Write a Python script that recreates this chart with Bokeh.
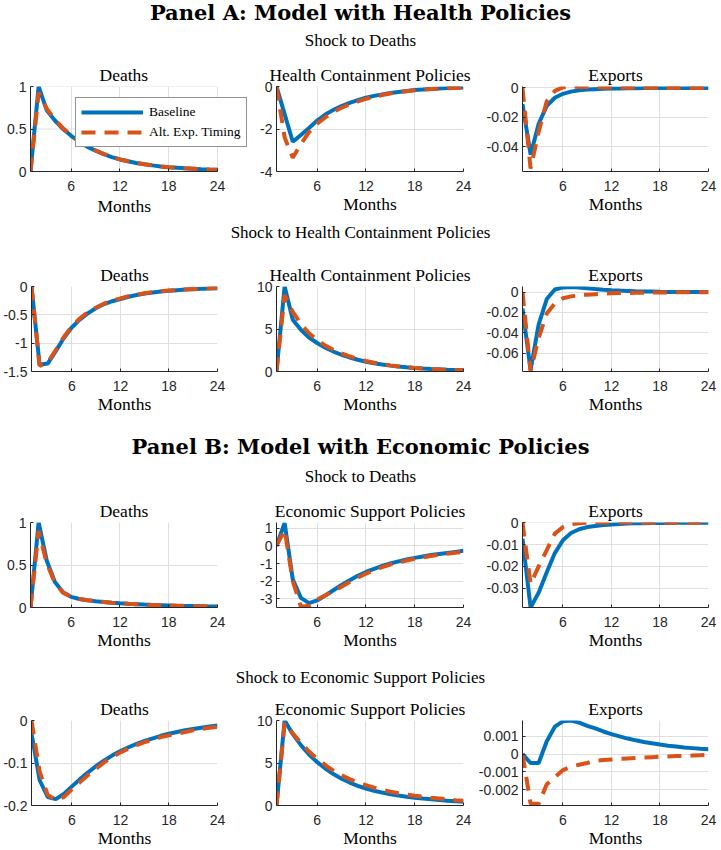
from bokeh.plotting import figure
from bokeh.layouts import column, row
from bokeh.models import Range1d, FixedTicker, Legend, LegendItem, Title
from bokeh.embed import file_html
from bokeh.resources import INLINE
from bokeh.core.properties import value

# ---------------- data ----------------
months = list(range(1, 25))
x_ticks = [6, 12, 18, 24]
x_tick_labels = ["6", "12", "18", "24"]

panel_titles = ["Panel A: Model with Health Policies", "Panel B: Model with Economic Policies"]
shock_titles = ["Shock to Deaths", "Shock to Health Containment Policies",
                "Shock to Deaths", "Shock to Economic Support Policies"]
series_names = ["Baseline", "Alt. Exp. Timing"]

# Row 1 (Panel A, shock to deaths)
a1_deaths_base = [0, 1.0, 0.72, 0.6, 0.5, 0.42, 0.35, 0.29, 0.245, 0.205, 0.17, 0.142, 0.12, 0.1, 0.085, 0.072, 0.06, 0.051, 0.044, 0.037, 0.032, 0.027, 0.023, 0.02]
a1_deaths_alt = [0, 0.93, 0.74, 0.61, 0.51, 0.425, 0.355, 0.295, 0.248, 0.207, 0.172, 0.143, 0.12, 0.1, 0.085, 0.072, 0.06, 0.051, 0.044, 0.037, 0.032, 0.027, 0.023, 0.02]
a1_health_base = [0, -1.3, -2.6, -2.28, -1.95, -1.6, -1.32, -1.1, -0.92, -0.77, -0.64, -0.53, -0.44, -0.37, -0.31, -0.26, -0.21, -0.17, -0.14, -0.115, -0.095, -0.075, -0.06, -0.05]
a1_health_alt = [0, -2.4, -3.35, -2.7, -2.15, -1.75, -1.45, -1.2, -1.0, -0.84, -0.7, -0.58, -0.48, -0.4, -0.33, -0.27, -0.22, -0.18, -0.15, -0.12, -0.1, -0.08, -0.065, -0.05]
a1_exports_base = [-0.011, -0.0455, -0.0244, -0.0122, -0.0067, -0.004, -0.0025, -0.0016, -0.0011, -0.0008, -0.0006, -0.0004, -0.0003, -0.0002, -0.00015, -0.0001, -0.00008, -0.00006, -0.00004, -0.00003, -0.00002, -0.00001, 0, 0]
a1_exports_alt = [0, -0.055, -0.03, -0.009, -0.002, 0.0004, 0.0008, 0.0007, 0.0006, 0.0005, 0.0004, 0.0003, 0.0002, 0.00015, 0.0001, 0.00008, 0.00006, 0.00004, 0.00003, 0.00002, 0.00001, 0, 0, 0]

# Row 2 (Panel A, shock to health containment policies)
a2_deaths_base = [0, -1.38, -1.36, -1.14, -0.91, -0.72, -0.58, -0.47, -0.38, -0.31, -0.26, -0.22, -0.18, -0.15, -0.125, -0.105, -0.09, -0.075, -0.065, -0.055, -0.047, -0.04, -0.035, -0.03]
a2_deaths_alt = [0, -1.4, -1.34, -1.12, -0.89, -0.7, -0.56, -0.45, -0.37, -0.3, -0.25, -0.21, -0.17, -0.145, -0.12, -0.1, -0.085, -0.072, -0.062, -0.053, -0.045, -0.038, -0.033, -0.028]
a2_health_base = [0, 10, 6.1, 4.9, 4.0, 3.35, 2.8, 2.35, 1.97, 1.65, 1.38, 1.15, 0.97, 0.82, 0.69, 0.58, 0.49, 0.41, 0.35, 0.3, 0.26, 0.22, 0.19, 0.17]
a2_health_alt = [0, 9.0, 7.0, 5.6, 4.5, 3.7, 3.05, 2.55, 2.12, 1.78, 1.48, 1.23, 1.03, 0.86, 0.72, 0.6, 0.5, 0.42, 0.35, 0.3, 0.25, 0.21, 0.18, 0.15]
a2_exports_base = [-0.016, -0.0765, -0.0316, -0.0068, 0.0025, 0.0046, 0.005, 0.0045, 0.0038, 0.003, 0.0024, 0.0019, 0.0015, 0.0012, 0.0009, 0.0007, 0.0005, 0.0003, 0.0002, 0.00015, 0.0001, 0.00005, 0.00003, 0]
a2_exports_alt = [0, -0.078, -0.045, -0.021, -0.011, -0.006, -0.0042, -0.003, -0.0025, -0.002, -0.0016, -0.0012, -0.001, -0.0008, -0.0007, -0.0006, -0.0005, -0.0004, -0.0003, -0.00025, -0.0002, -0.00015, -0.0001, -0.0001]

# Row 3 (Panel B, shock to deaths)
b1_deaths_base = [0, 1.0, 0.55, 0.3, 0.18, 0.125, 0.1, 0.085, 0.074, 0.065, 0.057, 0.05, 0.044, 0.039, 0.034, 0.03, 0.027, 0.024, 0.021, 0.019, 0.017, 0.015, 0.013, 0.012]
b1_deaths_alt = [0, 0.9, 0.52, 0.29, 0.175, 0.125, 0.1, 0.085, 0.074, 0.065, 0.057, 0.05, 0.044, 0.039, 0.034, 0.03, 0.027, 0.024, 0.021, 0.019, 0.017, 0.015, 0.013, 0.012]
b1_econ_base = [0, 1.3, -1.9, -2.95, -3.25, -3.1, -2.82, -2.52, -2.22, -1.95, -1.7, -1.48, -1.3, -1.14, -1.0, -0.88, -0.77, -0.68, -0.6, -0.52, -0.46, -0.4, -0.34, -0.28]
b1_econ_alt = [0, 0.9, -2.0, -3.45, -3.4, -3.05, -2.8, -2.58, -2.32, -2.05, -1.8, -1.58, -1.38, -1.21, -1.06, -0.94, -0.83, -0.73, -0.65, -0.57, -0.5, -0.44, -0.39, -0.35]
b1_exports_base = [-0.0073, -0.0388, -0.032, -0.0227, -0.0139, -0.008, -0.0047, -0.003, -0.002, -0.0015, -0.001, -0.0008, -0.0006, -0.0004, -0.0003, -0.0002, -0.00015, -0.0001, -0.00008, -0.00005, -0.00003, -0.00002, -0.00001, 0]
b1_exports_alt = [0, -0.028, -0.02, -0.0125, -0.005, -0.002, -0.0007, -0.0002, 0, 0.0001, 0.0001, 0.0001, 0.00005, 0.00005, 0.00003, 0.00002, 0.00001, 0, 0, 0, 0, 0, 0, 0]

# Row 4 (Panel B, shock to economic support policies)
b2_deaths_base = [-0.03, -0.14, -0.18, -0.185, -0.173, -0.155, -0.138, -0.122, -0.107, -0.094, -0.082, -0.072, -0.063, -0.055, -0.048, -0.042, -0.036, -0.031, -0.027, -0.023, -0.02, -0.017, -0.014, -0.012]
b2_deaths_alt = [0, -0.12, -0.175, -0.187, -0.18, -0.162, -0.145, -0.128, -0.113, -0.098, -0.086, -0.075, -0.066, -0.058, -0.051, -0.045, -0.039, -0.035, -0.031, -0.027, -0.023, -0.02, -0.017, -0.015]
b2_econ_base = [0, 10, 8.4, 7.1, 6.0, 5.1, 4.35, 3.7, 3.15, 2.7, 2.32, 2.0, 1.74, 1.52, 1.33, 1.17, 1.03, 0.92, 0.82, 0.73, 0.65, 0.57, 0.5, 0.45]
b2_econ_alt = [0, 9.7, 8.5, 7.35, 6.35, 5.5, 4.75, 4.1, 3.55, 3.1, 2.72, 2.4, 2.1, 1.85, 1.63, 1.44, 1.28, 1.15, 1.03, 0.92, 0.82, 0.72, 0.63, 0.55]
b2_exports_base = [0, -0.0005, -0.0005, 0.00073, 0.00155, 0.00185, 0.0019, 0.00178, 0.0016, 0.00145, 0.00128, 0.00113, 0.001, 0.00088, 0.00078, 0.00069, 0.00061, 0.00054, 0.00048, 0.00043, 0.00038, 0.00034, 0.0003, 0.00027]
b2_exports_alt = [0, -0.0028, -0.0028, -0.0017, -0.0013, -0.0009, -0.0007, -0.0006, -0.0005, -0.00037, -0.00033, -0.0003, -0.00027, -0.00024, -0.00021, -0.00019, -0.00017, -0.00015, -0.00013, -0.00011, -0.0001, -0.00008, -0.00006, -0.00005]

# y ticks / labels per subplot
yt_deaths_pos = [0, 0.5, 1];             yl_deaths_pos = ["0", "0.5", "1"]
yt_health_a1 = [-4, -2, 0];              yl_health_a1 = ["-4", "-2", "0"]
yt_exp_a1 = [-0.04, -0.02, 0];           yl_exp_a1 = ["-0.04", "-0.02", "0"]
yt_deaths_a2 = [-1.5, -1, -0.5, 0];      yl_deaths_a2 = ["-1.5", "-1", "-0.5", "0"]
yt_pol_pos = [0, 5, 10];                 yl_pol_pos = ["0", "5", "10"]
yt_exp_a2 = [-0.06, -0.04, -0.02, 0];    yl_exp_a2 = ["-0.06", "-0.04", "-0.02", "0"]
yt_econ_b1 = [-3, -2, -1, 0, 1];         yl_econ_b1 = ["-3", "-2", "-1", "0", "1"]
yt_exp_b1 = [-0.03, -0.02, -0.01, 0];    yl_exp_b1 = ["-0.03", "-0.02", "-0.01", "0"]
yt_deaths_b2 = [-0.2, -0.1, 0];          yl_deaths_b2 = ["-0.2", "-0.1", "0"]
yt_exp_b2 = [-0.002, -0.001, 0, 0.001];  yl_exp_b2 = ["-0.002", "-0.001", "0", "0.001"]

# ---------------- style / layout ----------------
BLUE = "#0072BD"
ORANGE = "#D95319"
AX = "#262626"
GRID = "#DFDFDF"
SERIF = "Liberation Serif"
SANS = "Liberation Sans"
COLW = [250, 224, 247]     # figure widths
COLL = [30, 26, 48]        # left borders
COLF = [187, 187, 186]     # frame widths
TOP, FRAME_H, BOTTOM = 24, 86, 45
ROWH = TOP + FRAME_H + BOTTOM


def style_text(t, size="17.5px"):
    t.text_font = SERIF
    t.text_font_size = size
    t.text_font_style = "normal"
    t.text_color = "black"


def subplot(col, title, base, alt, ylim, yticks, ylabels, legend=False, extend=0,
            title_shift=0.0, months_shift=0.0):
    fw = COLF[col]
    right = COLW[col] - COLL[col] - fw - extend
    x_end = 1 + 23 * (fw + extend) / fw
    p = figure(width=COLW[col], height=ROWH, x_range=Range1d(1, x_end),
               y_range=Range1d(ylim[0], ylim[1]), output_backend="svg",
               toolbar_location=None,
               min_border_left=COLL[col], min_border_right=right,
               min_border_top=TOP, min_border_bottom=BOTTOM)
    p.outline_line_color = None

    t = Title(text=title, standoff=3)
    style_text(t)
    if extend:
        t.align = "left"
        t.offset = title_shift
    else:
        t.align = "center"
    p.add_layout(t, "above")

    p.xaxis.ticker = FixedTicker(ticks=x_ticks)
    p.xaxis.major_label_overrides = {tk: s for tk, s in zip(x_ticks, x_tick_labels)}
    p.yaxis.ticker = FixedTicker(ticks=yticks)
    p.yaxis.major_label_overrides = {tk: s for tk, s in zip(yticks, ylabels)}
    p.xgrid.ticker = FixedTicker(ticks=x_ticks)
    p.ygrid.ticker = FixedTicker(ticks=yticks)
    for g in (p.xgrid, p.ygrid):
        g.grid_line_color = GRID
        g.grid_line_width = 1
    for ax in (p.xaxis, p.yaxis):
        ax.axis_line_color = AX
        ax.axis_line_width = 1
        ax.major_tick_line_color = AX
        ax.major_tick_in = 3
        ax.major_tick_out = 0
        ax.minor_tick_line_color = None
        ax.major_label_text_font = SANS
        ax.major_label_text_font_size = "14px"
        ax.major_label_text_color = AX
    p.xaxis.major_label_standoff = 9
    p.yaxis.major_label_standoff = 4

    if extend:
        # the frame is widened to the right so that the legend can stick out,
        # as in the original; axis, grid and label stay on months 1..24
        p.xaxis.bounds = (1, 24)
        p.ygrid.visible = False
        p.segment(x0=[1] * len(yticks), y0=yticks, x1=[24] * len(yticks), y1=yticks,
                  line_color=GRID, line_width=1, level="underlay")
        mt = Title(text="Months", align="left", offset=months_shift, standoff=0)
        style_text(mt)
        p.add_layout(mt, "below")
    else:
        p.xaxis.axis_label = "Months"
        p.xaxis.axis_label_text_font = SERIF
        p.xaxis.axis_label_text_font_size = "17.5px"
        p.xaxis.axis_label_text_font_style = "normal"
        p.xaxis.axis_label_text_color = "black"
        p.xaxis.axis_label_standoff = 0

    rb = p.line(months, base, line_color=BLUE, line_width=4)
    ro = p.line(months, alt, line_color=ORANGE, line_width=4, line_dash="14 9")
    if legend:
        lg = Legend(items=[LegendItem(label=series_names[0], renderers=[rb]),
                           LegendItem(label=series_names[1], renderers=[ro])],
                    location=(45, 24))
        lg.label_text_font = SERIF
        lg.label_text_font_size = "13.5px"
        lg.label_text_color = "black"
        lg.border_line_color = AX
        lg.border_line_width = 1
        lg.background_fill_color = "white"
        lg.background_fill_alpha = 1
        lg.padding = 5
        lg.spacing = 2
        lg.margin = 0
        lg.glyph_width = 62
        lg.glyph_height = 18
        lg.label_height = 18
        lg.label_standoff = 6
        p.add_layout(lg)
    return p


def heading(h, items):
    p = figure(width=721, height=h, x_range=Range1d(0, 721), y_range=Range1d(h, 0),
               output_backend="svg", toolbar_location=None,
               x_axis_location=None, y_axis_location=None, min_border=0)
    p.grid.visible = False
    p.outline_line_color = None
    for txt, y, font, size, style in items:
        p.text(x=[360], y=[y], text=[txt], text_align="center", text_baseline="middle",
               text_font=value(font), text_font_size=value(size),
               text_font_style=value(style), text_color="black")
    return p


head_a = heading(61, [(panel_titles[0], 12, "DejaVu Serif", "21px", "bold"),
                      (shock_titles[0], 40, SERIF, "17px", "normal")])
row1 = row(
    subplot(0, "Deaths", a1_deaths_base, a1_deaths_alt, (0, 1), yt_deaths_pos, yl_deaths_pos,
            legend=True, extend=31, title_shift=69, months_shift=67),
    subplot(1, "Health Containment Policies", a1_health_base, a1_health_alt, (-4, 0), yt_health_a1, yl_health_a1),
    subplot(2, "Exports", a1_exports_base, a1_exports_alt, (-0.057, 0.001), yt_exp_a1, yl_exp_a1),
)
head_2 = heading(45, [(shock_titles[1], 16, SERIF, "17px", "normal")])
row2 = row(
    subplot(0, "Deaths", a2_deaths_base, a2_deaths_alt, (-1.5, 0), yt_deaths_a2, yl_deaths_a2),
    subplot(1, "Health Containment Policies", a2_health_base, a2_health_alt, (0, 10), yt_pol_pos, yl_pol_pos),
    subplot(2, "Exports", a2_exports_base, a2_exports_alt, (-0.078, 0.0055), yt_exp_a2, yl_exp_a2),
)
head_b = heading(81, [(panel_titles[1], 30, "DejaVu Serif", "21px", "bold"),
                      (shock_titles[2], 60, SERIF, "17px", "normal")])
row3 = row(
    subplot(0, "Deaths", b1_deaths_base, b1_deaths_alt, (0, 1), yt_deaths_pos, yl_deaths_pos),
    subplot(1, "Economic Support Policies", b1_econ_base, b1_econ_alt, (-3.5, 1.33), yt_econ_b1, yl_econ_b1),
    subplot(2, "Exports", b1_exports_base, b1_exports_alt, (-0.0388, 0.0001), yt_exp_b1, yl_exp_b1),
)
head_4 = heading(43, [(shock_titles[3], 25, SERIF, "17px", "normal")])
row4 = row(
    subplot(0, "Deaths", b2_deaths_base, b2_deaths_alt, (-0.2, 0), yt_deaths_b2, yl_deaths_b2),
    subplot(1, "Economic Support Policies", b2_econ_base, b2_econ_alt, (0, 10), yt_pol_pos, yl_pol_pos),
    subplot(2, "Exports", b2_exports_base, b2_exports_alt, (-0.0029, 0.0019), yt_exp_b2, yl_exp_b2),
)

layout = column(head_a, row1, head_2, row2, head_b, row3, head_4, row4)
open("out.html", "w").write(file_html(layout, INLINE))
